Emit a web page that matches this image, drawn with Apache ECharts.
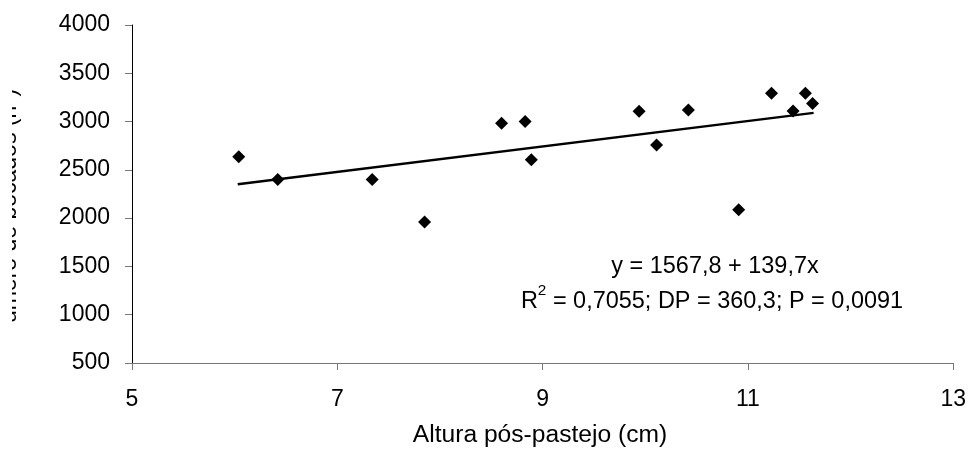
<!DOCTYPE html>
<html>
<head>
<meta charset="utf-8">
<script src="https://cdn.jsdelivr.net/npm/echarts@6/dist/echarts.min.js"></script>
<style>
  html, body { margin: 0; padding: 0; background: #fff; }
  #chart { width: 969px; height: 449px; }
</style>
</head>
<body>
<div id="chart"></div>
<script>
// data
var altura = [6.04, 6.42, 7.34, 7.85, 8.60, 8.83, 8.89, 9.94, 10.11, 10.42, 10.91, 11.23, 11.44, 11.56, 11.63];
var bocados = [2636, 2401, 2401, 1960, 2982, 3000, 2605, 3107, 2757, 3121, 2086, 3294, 3110, 3294, 3187];
// trend line end points
var trendX = [6.03, 11.64];
var trendY = [2350, 3090];

var xTitle = 'Altura pós-pastejo (cm)';
var yTitle = 'úmero de bocados (n°)';
var eqText = 'y = 1567,8 + 139,7x';

var font = 'Liberation Sans, Arial, sans-serif';

var pts = altura.map(function (x, i) { return [x, bocados[i]]; });
var trend = trendX.map(function (x, i) { return [x, trendY[i]]; });

var chart = echarts.init(document.getElementById('chart'));
var option = {
    animation: false,
    grid: { left: 132, right: 15, top: 25, bottom: 86 },
    xAxis: {
        type: 'value', min: 5, max: 13, interval: 2,
        splitLine: { show: false },
        axisLine: { lineStyle: { color: '#777', width: 1 } },
        axisTick: { show: true, length: 7, lineStyle: { color: '#777' } },
        axisLabel: { color: '#000', fontSize: 23, fontFamily: font, margin: 25 }
    },
    yAxis: {
        type: 'value', min: 500, max: 4000, interval: 500,
        splitLine: { show: false },
        axisLine: { show: true, lineStyle: { color: '#000', width: 1 } },
        axisTick: { show: true, length: 7, lineStyle: { color: '#777' } },
        axisLabel: {
            color: '#000', fontSize: 23, fontFamily: font, margin: 22,
            formatter: function (v) { return String(v); }
        }
    },
    graphic: [
        {
            type: 'text', x: 21, y: 206, rotation: Math.PI / 2, z: 50,
            style: { text: yTitle, fill: '#000', font: '23px ' + font, textAlign: 'center', textVerticalAlign: 'bottom' }
        },
        {
            type: 'rect', z: 60, shape: { x: 0, y: 0, width: 12, height: 449 },
            style: { fill: '#fff' }
        },
        {
            type: 'text', x: 540, y: 436, scaleX: 1.07, z: 50,
            style: { text: xTitle, fill: '#000', font: '23px ' + font, textAlign: 'center', textVerticalAlign: 'middle' }
        },
        {
            type: 'text', x: 715, y: 267, scaleX: 1.02, z: 50,
            style: { text: eqText, fill: '#000', font: '23px ' + font, textAlign: 'center', textVerticalAlign: 'middle' }
        },
        {
            type: 'text', x: 712, y: 298, scaleX: 1.02, z: 50,
            style: {
                text: '{a|R}{s|2}{a| = 0,7055; DP = 360,3; P = 0,0091}',
                textAlign: 'center', textVerticalAlign: 'middle',
                rich: {
                    a: { fill: '#000', fontSize: 23, fontFamily: font, lineHeight: 30, verticalAlign: 'bottom' },
                    s: { fill: '#000', fontSize: 15, fontFamily: font, lineHeight: 15, verticalAlign: 'top' }
                }
            }
        }
    ],
    series: [
        {
            type: 'line', data: trend, symbol: 'none',
            lineStyle: { color: '#000', width: 2.5 }, z: 2
        },
        {
            type: 'scatter', data: pts, symbol: 'diamond', symbolSize: 13,
            itemStyle: { color: '#000', opacity: 1 }, z: 3
        }
    ]
};
chart.setOption(option);
</script>
</body>
</html>
